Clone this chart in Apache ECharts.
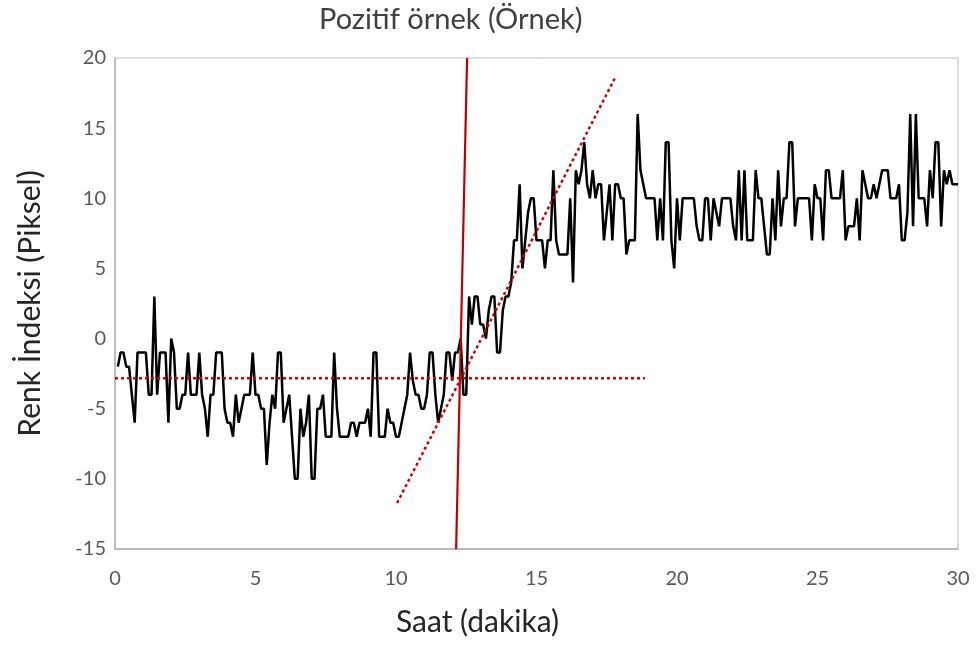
<!DOCTYPE html>
<html lang="tr">
<head>
<meta charset="UTF-8">
<title>Pozitif örnek (Örnek)</title>
<script src="https://cdn.jsdelivr.net/npm/echarts@6/dist/echarts.min.js"></script>
<style>
  html, body { margin: 0; padding: 0; background: #fff; }
  #chart { width: 976px; height: 648px; }
</style>
</head>
<body>
<div id="chart"></div>
<script>
// okuma araligi (dakika)
var sampleStep = 0.1;
// renk indeksi, her 0.1 dakikada bir (0.1 .. 30.0)
var colorIndex = [
  -2,-1,-1,-2,-2,-4,-6,-1,-1,-1,
  -1,-4,-4,3,-4,-1,-1,-1,-6,0,
  -1,-5,-5,-4,-4,-1,-4,-4,-4,-1,
  -4,-5,-7,-4,-4,-1,-1,-1,-5,-6,
  -6,-7,-4,-6,-5,-4,-4,-4,-1,-4,
  -4,-5,-5,-9,-6,-4,-5,-1,-1,-6,
  -5,-4,-7,-10,-10,-5,-7,-6,-4,-10,
  -10,-5,-5,-4,-7,-7,-7,-1,-5,-7,
  -7,-7,-7,-6,-6,-7,-6,-6,-6,-5,
  -7,-1,-1,-7,-7,-7,-5,-6,-6,-7,
  -7,-6,-5,-4,-1,-3,-4,-4,-5,-5,
  -4,-1,-1,-4,-6,-5,-4,-1,-1,-3,
  -1,-1,0,-4,-4,3,1,3,3,1,
  1,0,2,3,3,-1,-1,2,3,3,
  4,7,7,11,5,7,9,10,10,7,
  7,7,5,7,7,12,7,6,6,6,
  6,10,4,12,11,12,14,11,10,12,
  10,11,11,7,9,11,7,11,11,10,
  10,6,7,7,7,16,12,11,10,10,
  10,10,7,10,7,14,14,7,5,10,
  7,10,10,10,10,10,8,7,7,10,
  10,7,10,9,8,10,10,10,10,8,
  7,12,7,12,7,7,7,12,10,10,
  8,6,6,10,7,12,8,10,10,14,
  14,8,10,10,10,10,10,7,11,10,
  10,7,12,12,10,10,10,10,12,7,
  8,8,8,10,7,12,11,10,10,11,
  10,11,12,12,12,10,10,10,11,7,
  7,9,16,8,16,10,10,10,8,12,
  10,14,14,8,12,11,12,11,11,11
];
// yardimci cizgiler (uc noktalar)
var onsetLine = [[12.14, -15], [12.53, 20]];
var baselineLine = [[0, -2.83], [18.86, -2.83]];
var slopeLine = [[10.04, -11.72], [17.79, 18.57]];
// eksen araliklari
var xRange = [0, 30, 5];
var yRange = [-15, 20, 5];

var seriesData = [];
for (var i = 0; i < colorIndex.length; i++) {
  seriesData.push([+((i + 1) * sampleStep).toFixed(1), colorIndex[i]]);
}

var font = 'Lato, "Open Sans", sans-serif';
var chart = echarts.init(document.getElementById('chart'));
var option = {
  animation: false,
  backgroundColor: '#fff',
  title: {
    text: 'Pozitif örnek (Örnek)',
    left: 314,
    top: 0,
    textStyle: { fontFamily: font, fontSize: 29, fontWeight: 'normal', color: '#404040' }
  },
  grid: {
    left: 115, right: 18, top: 58, bottom: 99,
    show: true, borderColor: '#bdbdbd', borderWidth: 1
  },
  xAxis: {
    type: 'value',
    min: xRange[0], max: xRange[1], interval: xRange[2],
    name: 'Saat (dakika)',
    nameLocation: 'middle',
    nameGap: 58,
    nameTextStyle: { fontFamily: font, fontSize: 30, color: '#262626', padding: [0, 118, 0, 0] },
    axisLine: { show: true, onZero: false, lineStyle: { color: '#b0b0b0', width: 1.5 } },
    axisTick: { show: false },
    splitLine: { show: false },
    axisLabel: { fontFamily: font, fontSize: 20, color: '#595959', margin: 20 }
  },
  yAxis: {
    type: 'value',
    min: yRange[0], max: yRange[1], interval: yRange[2],
    name: 'Renk İndeksi (Piksel)',
    nameLocation: 'middle',
    nameRotate: 90,
    nameGap: 70,
    nameTextStyle: { fontFamily: font, fontSize: 30, color: '#262626' },
    axisLine: { show: true, onZero: false, lineStyle: { color: '#b0b0b0', width: 1.5 } },
    axisTick: { show: false },
    splitLine: { show: false },
    axisLabel: { fontFamily: font, fontSize: 20, color: '#595959', margin: 9 }
  },
  series: [
    {
      type: 'line',
      data: seriesData,
      showSymbol: false,
      lineStyle: { color: '#000', width: 2.5 },
      z: 2
    },
    {
      type: 'line',
      data: baselineLine,
      showSymbol: false,
      lineStyle: { color: '#d00000', width: 2.5, type: [3, 3] },
      z: 3
    },
    {
      type: 'line',
      data: slopeLine,
      showSymbol: false,
      lineStyle: { color: '#d00000', width: 2.5, type: [3, 3] },
      z: 3
    },
    {
      type: 'line',
      data: onsetLine,
      showSymbol: false,
      lineStyle: { color: '#c00000', width: 2.2 },
      z: 3
    }
  ]
};
chart.setOption(option);
</script>
</body>
</html>
